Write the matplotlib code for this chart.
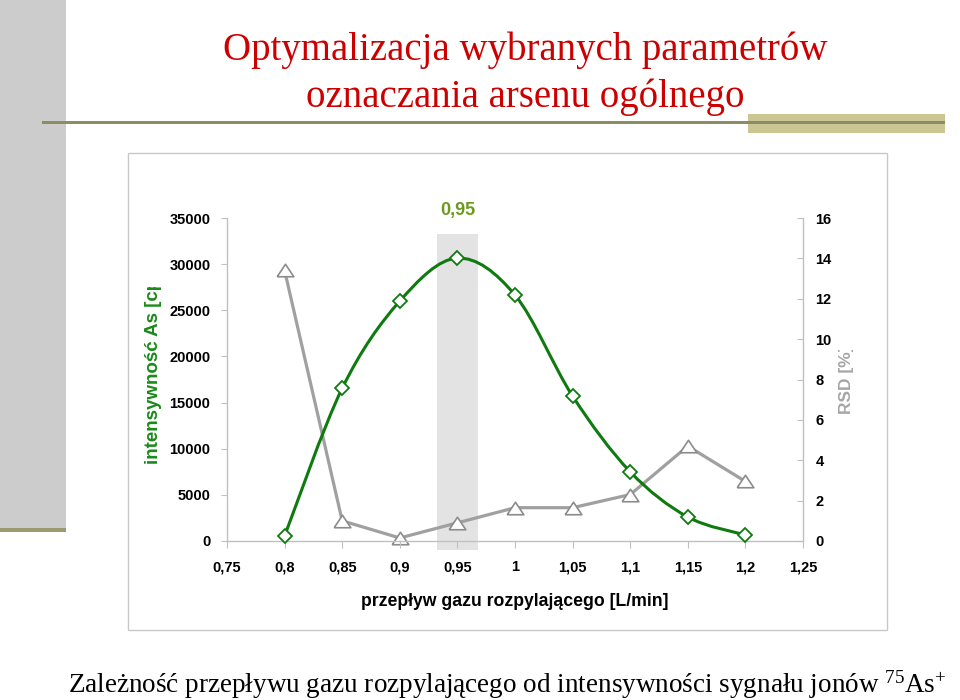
import matplotlib
matplotlib.use("Agg")
import matplotlib.pyplot as plt
from matplotlib.patches import Rectangle, PathPatch
from matplotlib.path import Path
from matplotlib.transforms import blended_transform_factory
import numpy as np

# data
flow = [0.80, 0.85, 0.90, 0.95, 1.00, 1.05, 1.10, 1.15, 1.20]
intensity = [550, 16550, 26000, 30650, 26650, 15700, 7500, 2600, 650]
rsd = [13.4, 1.0, 0.15, 0.9, 1.65, 1.65, 2.3, 4.7, 2.95]

x_ticks = [0.75, 0.80, 0.85, 0.90, 0.95, 1.00, 1.05, 1.10, 1.15, 1.20, 1.25]
x_tick_labels = ["0,75", "0,8", "0,85", "0,9", "0,95", "1", "1,05", "1,1", "1,15", "1,2", "1,25"]
left_ticks = [0, 5000, 10000, 15000, 20000, 25000, 30000, 35000]
right_ticks = [0, 2, 4, 6, 8, 10, 12, 14, 16]
best_flow = 0.95

title_lines = ["Optymalizacja wybranych parametrów", "oznaczania arsenu ogólnego"]
xlabel = "przepływ gazu rozpylającego [L/min]"
ylabel_left = "intensywność As [cps]"
ylabel_right = "RSD [%]"
caption = "Zależność przepływu gazu rozpylającego od intensywności sygnału jonów $^{75}$As$^{+}$"

plt.rcParams["font.family"] = ["Liberation Sans", "DejaVu Sans"]
plt.rcParams["mathtext.fontset"] = "custom"
plt.rcParams["mathtext.rm"] = "Liberation Serif"
plt.rcParams["mathtext.it"] = "Liberation Serif:italic"

W, H = 960, 700
fig = plt.figure(figsize=(W / 100, H / 100), dpi=100)


def fx(px):
    return px / W


def fy(py):
    return 1 - py / H


# slide decoration
fig.add_artist(Rectangle((0, fy(528)), fx(66), 528 / H, transform=fig.transFigure,
                         facecolor="#cccccc", edgecolor="none", zorder=-3))
fig.add_artist(Rectangle((0, fy(532)), fx(66), 4 / H, transform=fig.transFigure,
                         facecolor="#9c9a6e", edgecolor="none", zorder=-3))
fig.add_artist(Rectangle((fx(748), fy(133)), fx(945 - 748), 19 / H, transform=fig.transFigure,
                         facecolor="#cbc794", edgecolor="none", zorder=-3))
fig.add_artist(Rectangle((fx(42), fy(124)), fx(945 - 42), 3 / H, transform=fig.transFigure,
                         facecolor="#8e8c62", edgecolor="none", zorder=-2))

fig.text(fx(525), fy(50), title_lines[0], ha="center", va="center", color="#cc0000",
         fontsize=28, family="Liberation Serif")
fig.text(fx(525), fy(97), title_lines[1], ha="center", va="center", color="#cc0000",
         fontsize=28, family="Liberation Serif")

# chart frame
fig.add_artist(Rectangle((fx(128), fy(630)), fx(887 - 128), (630 - 153) / H,
                         transform=fig.transFigure, facecolor="white",
                         edgecolor="#c8c8c8", linewidth=1, zorder=-1))

fig.text(fx(68), fy(693), caption, ha="left", va="baseline", color="black",
         fontsize=19.5, family="Liberation Serif")

# axes
ax = fig.add_axes([fx(227), fy(541), fx(803 - 227), (541 - 218) / H])
ax2 = ax.twinx()
ax.set_zorder(2)
ax2.set_zorder(1)
ax.patch.set_visible(False)

spine_c = "#c0c0c0"
for a in (ax, ax2):
    for s in a.spines.values():
        s.set_visible(False)
ax.spines["left"].set_visible(True)
ax.spines["bottom"].set_visible(True)
ax2.spines["right"].set_visible(True)
for s in (ax.spines["left"], ax.spines["bottom"], ax2.spines["right"]):
    s.set_color(spine_c)
    s.set_linewidth(1)

ax.set_xlim(0.75, 1.25)
ax.set_ylim(0, 35000)
ax2.set_ylim(0, 16)

ax.set_xticks(x_ticks)
ax.set_xticklabels(x_tick_labels)
ax.set_yticks(left_ticks)
ax.set_yticklabels([str(v) for v in left_ticks])
ax2.set_yticks(right_ticks)
ax2.set_yticklabels([str(v) for v in right_ticks])

for lab in ax.get_xticklabels() + ax.get_yticklabels() + ax2.get_yticklabels():
    lab.set_fontsize(10.5)
    lab.set_fontweight("bold")
ax.tick_params(axis="x", direction="out", length=5, color=spine_c, pad=9)
ax.tick_params(axis="y", direction="out", length=4, color=spine_c, pad=8)
ax2.tick_params(axis="y", direction="in", length=4, color=spine_c, pad=9)

# highlighted optimum band
band_tr = blended_transform_factory(ax2.transData, ax2.transAxes)
ax2.add_patch(Rectangle((best_flow - 0.018, -0.028), 0.036, 0.978, transform=band_tr,
                        facecolor="#e3e3e3", edgecolor="none", clip_on=False, zorder=0))
ax.text(best_flow, fy(210), "0,95", transform=blended_transform_factory(ax.transData, fig.transFigure),
        ha="center", va="center", color="#6b9a1e", fontsize=13, fontweight="bold")

# RSD series (straight lines)
tri = [(-1, -0.75), (1, -0.75), (0, 0.75), (-1, -0.75)]
ax2.plot(flow, rsd, color="#a0a0a0", linewidth=2.3, marker=tri, markersize=12,
         markerfacecolor="white", markeredgecolor="#8c8c8c", markeredgewidth=1.2,
         zorder=3, clip_on=False)

# intensity series (smoothed line, Bezier through the points)
pts = np.column_stack([flow, intensity]).astype(float)
verts = [tuple(pts[0])]
codes = [Path.MOVETO]
n = len(pts)
for i in range(n - 1):
    p0 = pts[i - 1] if i > 0 else pts[i]
    p1 = pts[i]
    p2 = pts[i + 1]
    p3 = pts[i + 2] if i + 2 < n else pts[i + 1]
    c1 = p1 + (p2 - p0) / 6
    c2 = p2 - (p3 - p1) / 6
    verts += [tuple(c1), tuple(c2), tuple(p2)]
    codes += [Path.CURVE4] * 3
ax.add_patch(PathPatch(Path(verts, codes), facecolor="none", edgecolor="#0f7a0f",
                       linewidth=2.2, zorder=3, clip_on=False))
ax.plot(flow, intensity, linestyle="none", marker="D", markersize=7.5,
        markerfacecolor="white", markeredgecolor="#0f7a0f", markeredgewidth=1.3,
        zorder=4, clip_on=False)

# axis titles
fig.text(fx(515), fy(601), xlabel, ha="center", va="center",
         fontsize=12.7, fontweight="bold", color="black")

t1 = fig.text(fx(153), fy(464), ylabel_left, rotation=90, ha="center", va="bottom",
              fontsize=13.5, fontweight="bold", color="#1a8a1a")
t1.set_clip_path(Rectangle((0, 0), 1, fy(287), transform=fig.transFigure))
t2 = fig.text(fx(847), fy(414), ylabel_right, rotation=90, ha="center", va="bottom",
              fontsize=12.5, fontweight="bold", color="#a6a6a6")
t2.set_clip_path(Rectangle((0, 0), 1, fy(350), transform=fig.transFigure))

plt.savefig("out.png", dpi=100)
plt.close()
